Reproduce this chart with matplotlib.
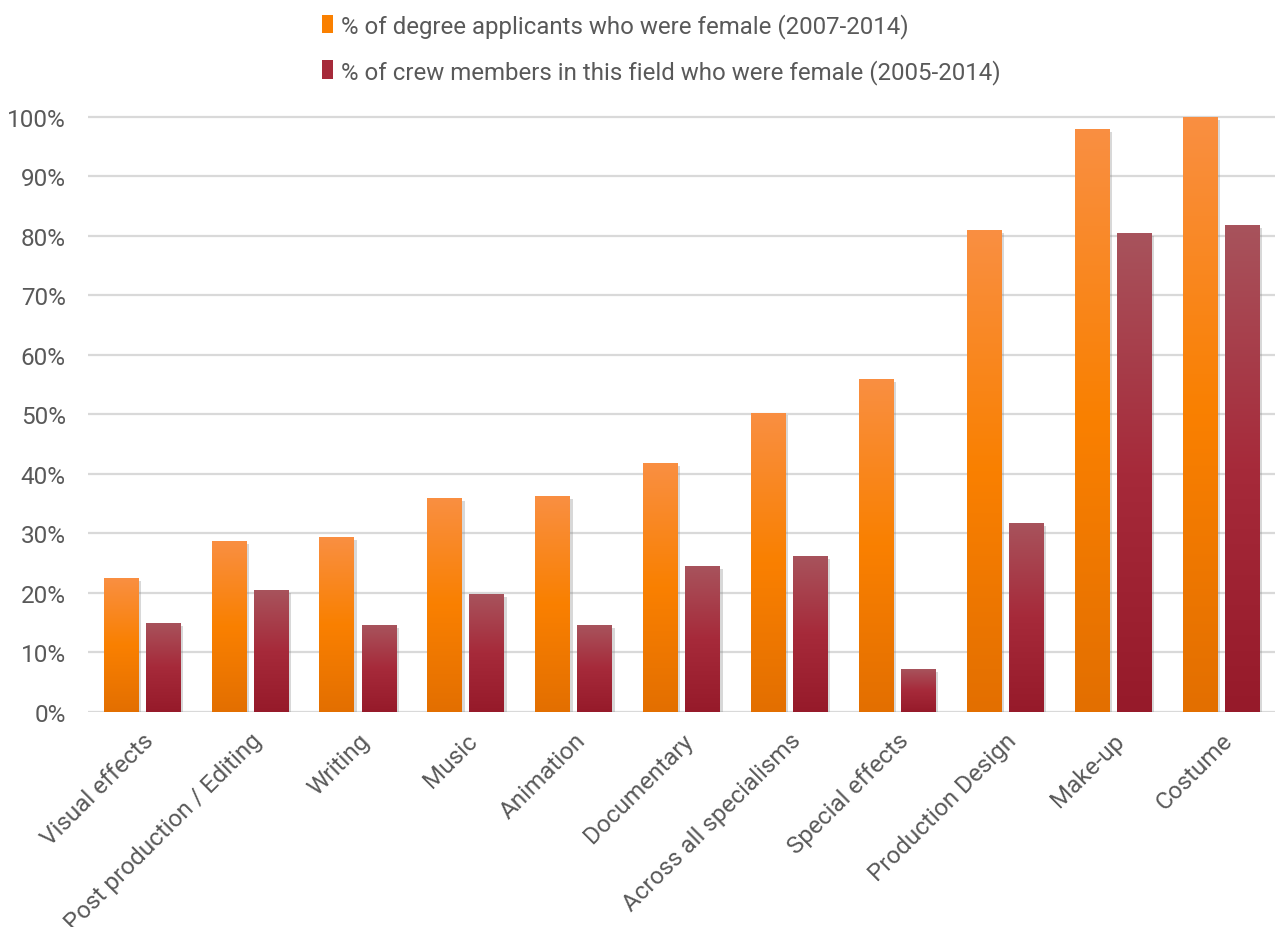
import numpy as np
import matplotlib
matplotlib.use('Agg')
import matplotlib.pyplot as plt
from matplotlib.colors import LinearSegmentedColormap
from matplotlib.patches import Patch
import matplotlib.patheffects as pe

plt.rcParams['font.family'] = ['Roboto', 'DejaVu Sans']

# Data
categories = ['Visual effects', 'Post production / Editing', 'Writing', 'Music',
              'Animation', 'Documentary', 'Across all specialisms', 'Special effects',
              'Production Design', 'Make-up', 'Costume']
applicants = [22.5, 28.7, 29.4, 36.0, 36.3, 41.8, 50.3, 56.0, 81.0, 98.0, 100.0]
crew = [15.0, 20.5, 14.6, 19.8, 14.6, 24.5, 26.2, 7.2, 31.8, 80.5, 81.8]
labels = ['% of degree applicants who were female (2007-2014)',
          '% of crew members in this field who were female (2005-2014)']
yticks = [0, 10, 20, 30, 40, 50, 60, 70, 80, 90, 100]

text_color = '#595959'
grid_color = '#D9D9D9'
fs = 17.5

# bottom -> middle -> top gradient colours
orange_cmap = LinearSegmentedColormap.from_list('o', ['#E36F00', '#FA8000', '#F98F42'])
red_cmap = LinearSegmentedColormap.from_list('r', ['#961A2A', '#A62A3A', '#A8535C'])

fig = plt.figure(figsize=(12.75, 9.28), dpi=100)
ax = fig.add_axes([0.069, 0.2317, 0.931, 0.6444])

x = np.arange(len(categories))
w = 0.32
off = 0.195

grad = np.linspace(0, 1, 256).reshape(-1, 1)
shadow = [pe.SimplePatchShadow(offset=(2, -2), shadow_rgbFace='#808080', alpha=0.3), pe.Normal()]


def gradient_bars(xpos, vals, cmap, mid):
    bars = ax.bar(xpos, vals, width=w, color=mid, zorder=3, path_effects=shadow)
    for b in bars:
        x0, y0 = b.get_x(), b.get_y()
        im = ax.imshow(grad, cmap=cmap, aspect='auto', origin='lower',
                       extent=(x0, x0 + b.get_width(), y0, y0 + b.get_height()),
                       zorder=4)
        im.set_clip_path(b)
    return bars


gradient_bars(x - off, applicants, orange_cmap, '#FA8000')
gradient_bars(x + off, crew, red_cmap, '#A62A3A')

ax.set_xlim(-0.5, len(categories) - 0.5)
ax.set_ylim(0, 100.5)
ax.set_yticks(yticks)
ax.set_yticklabels([f'{v}%' for v in yticks])
ax.set_xticks(x)
ax.set_xticklabels(categories, rotation=45, ha='right', rotation_mode='anchor')
ax.tick_params(axis='both', length=0, labelsize=fs, labelcolor=text_color)
ax.tick_params(axis='y', pad=16)
ax.tick_params(axis='x', pad=12)
ax.yaxis.grid(True, color=grid_color, linewidth=1.6, zorder=0)
ax.set_axisbelow(True)
for s in ax.spines.values():
    s.set_visible(False)
ax.set_aspect('auto')

handles = [Patch(facecolor='#FA8000'), Patch(facecolor='#A62A3A')]
fig.legend(handles, labels, loc='upper left', bbox_to_anchor=(0.245, 0.995),
           frameon=False, fontsize=17.3, labelcolor=text_color, borderaxespad=0,
           handlelength=0.45, handleheight=0.8, handletextpad=0.35, labelspacing=0.85)

fig.savefig('out.png', dpi=100)
